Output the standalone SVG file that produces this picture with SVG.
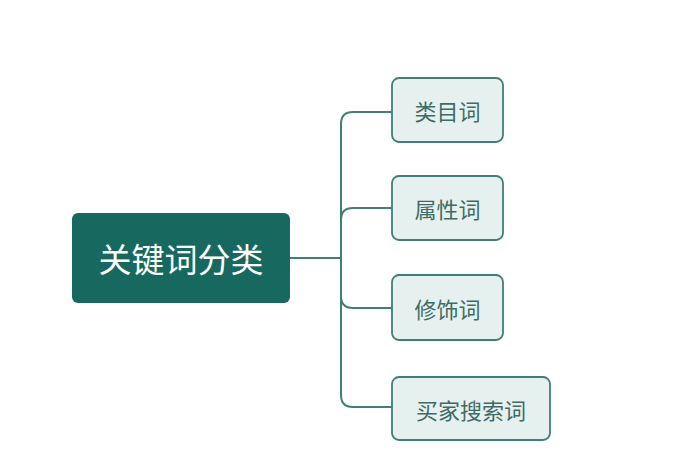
<svg xmlns="http://www.w3.org/2000/svg" width="700" height="470" viewBox="0 0 700 470">
<style>
.child rect{fill:#e6f1ef;stroke:#3f7f76;stroke-width:1.8}
.child text{font-family:"Noto Sans CJK SC","Noto Sans",sans-serif;font-size:22px;fill:#3e6b66;text-anchor:middle;dominant-baseline:central}
.conn path{fill:none;stroke:#3f7f76;stroke-width:2}
</style>
<rect width="700" height="470" fill="#ffffff"/>
<g class="conn" id="connectors">
<path d="M290,258 H341"/>
<path d="M392,112 H353 Q341,112 341,124 V395 Q341,407 353,407 H392"/>
<path d="M392,208 H353 Q341,208 341,220"/>
<path d="M392,308 H353 Q341,308 341,296"/>
</g>
<g id="root">
<rect x="72" y="213" width="218" height="90" rx="6" fill="#17695f"/>
<text x="181" y="258" font-family="Noto Sans CJK SC,Noto Sans,sans-serif" font-size="33" fill="#ffffff" text-anchor="middle" dominant-baseline="central">关键词分类</text>
</g>
<g id="n1" class="child">
<rect x="392" y="78" width="111" height="64" rx="7"/>
<text x="447.5" y="110">类目词</text>
</g>
<g id="n2" class="child">
<rect x="392" y="176" width="111" height="64" rx="7"/>
<text x="447.5" y="208">属性词</text>
</g>
<g id="n3" class="child">
<rect x="392" y="275" width="111" height="65" rx="7"/>
<text x="447.5" y="307.5">修饰词</text>
</g>
<g id="n4" class="child">
<rect x="392" y="377" width="158" height="63" rx="7"/>
<text x="471" y="408.5">买家搜索词</text>
</g>
</svg>
